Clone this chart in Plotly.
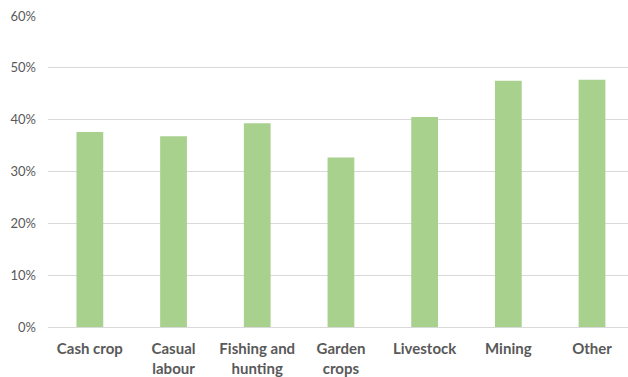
import plotly.graph_objects as go

categories = ["Cash crop", "Casual<br>labour", "Fishing and<br>hunting", "Garden<br>crops", "Livestock", "Mining", "Other"]
values = [0.376, 0.368, 0.393, 0.327, 0.405, 0.475, 0.477]
y_ticks = [0, 0.1, 0.2, 0.3, 0.4, 0.5, 0.6]
y_tick_labels = ["0%", "10%", "20%", "30%", "40%", "50%", "60%"]

fig = go.Figure(go.Bar(
    x=list(range(len(categories))),
    y=values,
    width=0.32,
    marker=dict(color="#A9D18E", line=dict(width=0)),
    hoverinfo="skip",
))

fig.update_layout(
    width=628, height=377,
    margin=dict(l=48, r=0, t=16, b=50),
    paper_bgcolor="white", plot_bgcolor="white",
    showlegend=False,
    font=dict(family="Lato, Carlito, sans-serif", color="#595959"),
)
fig.update_xaxes(
    tickmode="array",
    tickvals=list(range(len(categories))),
    ticktext=[f"<b>{c}</b>" for c in categories],
    range=[-0.5, 6.43],
    showgrid=False, zeroline=False, showline=False,
    tickfont=dict(size=15, color="#595959"),
    ticks="", ticklabelstandoff=11,
)
fig.update_yaxes(
    range=[0, 0.6],
    tickmode="array", tickvals=y_ticks, ticktext=y_tick_labels,
    showgrid=True, gridcolor="#D9D9D9", gridwidth=1,
    zeroline=True, zerolinecolor="#D9D9D9", zerolinewidth=1,
    showline=False, ticks="",
    tickfont=dict(size=13, color="#595959"),
    ticklabelstandoff=11,
)

fig.write_html("out.html")
